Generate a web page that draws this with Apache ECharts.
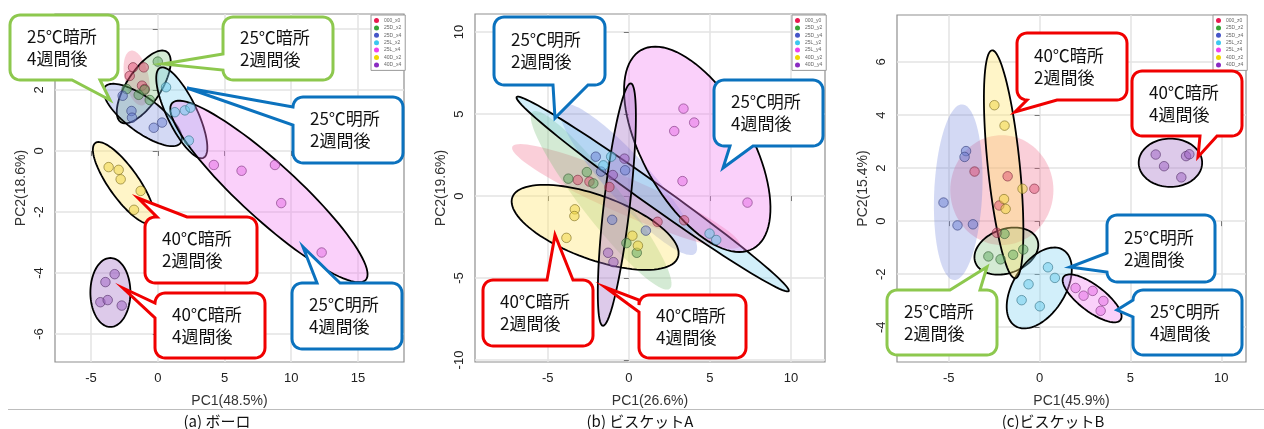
<!DOCTYPE html>
<html>
<head>
<meta charset="utf-8">
<script src="https://cdn.jsdelivr.net/npm/echarts@6/dist/echarts.min.js"></script>
<style>
  html, body { margin: 0; padding: 0; background: #fff; }
  #chart { width: 1264px; height: 429px; }
</style>
</head>
<body>
<div id="chart"></div>
<script>
// ---- PCA scores (PC1, PC2) per storage group ----
const boroGroups = ['000_x0', '25D_x2', '25D_x4', '25L_x2', '25L_x4', '40D_x2', '40D_x4'];
const biscuitAGroups = ['000_y0', '25D_y2', '25D_y4', '25L_y2', '25L_y4', '40D_y2', '40D_y4'];
const biscuitBGroups = ['000_z0', '25D_z2', '25D_z4', '25L_z2', '25L_z4', '40D_z2', '40D_z4'];

const boroScores = [
  [[-1.85, 2.74], [-1.05, 2.74], [-2.10, 2.46], [-1.18, 2.14], [-0.98, 2.03]],
  [[0.00, 2.93], [-2.33, 2.03], [-1.00, 2.00], [-1.43, 1.84], [-0.60, 1.67]],
  [[-2.63, 1.81], [-1.97, 1.31], [-1.93, 1.09], [-0.30, 0.76], [0.32, 0.93]],
  [[0.62, 2.09], [1.28, 1.27], [2.03, 1.33], [2.45, 1.42], [2.33, 0.34]],
  [[4.20, -0.46], [6.28, -0.65], [8.78, -0.46], [9.25, -1.71], [12.28, -3.33]],
  [[-3.68, -0.53], [-2.93, -0.62], [-2.78, -0.93], [-1.28, -1.31], [-1.78, -1.93]],
  [[-3.23, -4.04], [-3.92, -4.30], [-4.30, -4.96], [-3.75, -4.89], [-2.70, -5.07]]
];
const biscuitAScores = [
  [[-3.15, 0.98], [-2.43, 0.88], [-1.20, 0.55], [1.77, -1.57], [3.41, -1.48]],
  [[-2.59, 1.46], [-3.73, 1.06], [-2.19, 0.77], [-0.15, -2.87], [0.49, -3.46]],
  [[-2.04, 2.40], [-1.71, 1.49], [-0.23, 1.57], [-1.03, -1.45], [1.05, -2.11]],
  [[-1.09, 2.40], [-1.57, 1.87], [4.98, -2.29], [5.39, -2.68]],
  [[3.37, 5.33], [4.03, 4.48], [2.80, 3.96], [3.31, 0.91], [7.32, -0.40]],
  [[-3.33, -0.81], [-3.36, -1.22], [-3.85, -2.55], [0.22, -2.42], [0.56, -3.03]],
  [[-0.27, 2.28], [-0.99, 1.28], [-1.28, -3.46], [-0.95, -4.03]]
];
const biscuitBScores = [
  [[-3.58, 1.87], [-1.76, 1.69], [-0.29, 1.22], [-2.22, 0.59], [-2.35, -0.44]],
  [[-1.93, -0.48], [-0.90, -1.07], [-1.46, -1.27], [-2.82, -1.33], [-2.15, -1.44]],
  [[-4.05, 2.64], [-4.13, 2.42], [-5.29, 0.70], [-4.52, -0.16], [-3.67, -0.12]],
  [[0.46, -1.74], [0.84, -2.14], [-0.61, -2.38], [-0.99, -2.98], [0.01, -3.21]],
  [[1.98, -2.52], [2.42, -2.81], [2.92, -2.63], [3.51, -3.01], [3.36, -3.38]],
  [[-2.49, 4.37], [-1.93, 3.60], [-0.94, 1.22], [-1.96, 0.83], [-1.87, 0.46]],
  [[6.39, 2.51], [6.85, 2.07], [7.80, 1.65], [8.06, 2.45], [8.24, 2.52]]
];

// ---- Confidence ellipses: centre (cx, cy) and the two semi-axis vectors u, v in score units ----
const boroEllipses = [
  [-1.58, 2.39, 0.439, -0.897, -0.880, -0.082],
  [-1.05, 2.10, 1.717, 1.155, 1.070, -0.304],
  [-1.13, 1.18, 2.831, -0.920, -0.761, -0.448],
  [1.80, 1.25, 1.624, -1.475, -1.013, -0.213],
  [8.33, -1.33, 7.253, -2.899, -1.418, -0.678],
  [-2.55, -1.05, 2.121, -1.313, -0.919, -0.284],
  [-3.55, -4.64, 0, 1.131, 1.50, 0]
];
const biscuitAEllipses = [
  [-0.17, -0.02, 7.019, -3.024, -0.444, -1.006],
  [-1.71, -0.26, 4.231, -5.395, -0.975, -0.746],
  [-0.04, 1.02, 4.130, -4.530, -1.009, -0.897],
  [1.47, 0.12, 8.391, -5.916, -0.395, -0.546],
  [4.22, 2.85, 3.462, -6.048, -2.9, -1.62],
  [-2.08, -1.91, 5.106, -1.835, -0.676, -1.834],
  [-0.74, -0.52, -0.863, -7.390, -0.797, 0.091]
];
const biscuitBEllipses = [
  [-2.08, 1.17, 0, 2.07, 2.84, 0],
  [-1.83, -1.13, 1.708, 0.425, 0.414, -0.779],
  [-4.48, 1.09, 0.223, 3.311, 1.320, -0.042],
  [-0.02, -2.52, -1.321, -1.434, -1.211, 0.522],
  [2.89, -2.91, 1.563, -0.816, -0.435, -0.389],
  [-1.98, 2.14, 0.642, -4.298, -0.876, -0.061],
  [7.20, 2.20, 1.746, 0, 0, 0.911]
];

// ---- axis titles and tick labels ----
const pc1Names = ['PC1(48.5%)', 'PC1(26.6%)', 'PC1(45.9%)'];
const pc2Names = ['PC2(18.6%)', 'PC2(19.6%)', 'PC2(15.4%)'];
const boroXTicks = [-5, 0, 5, 10, 15];
const boroYTicks = [-6, -4, -2, 0, 2, 4];
const biscuitAXTicks = [-5, 0, 5, 10];
const biscuitAYTicks = [-10, -5, 0, 5, 10];
const biscuitBXTicks = [-5, 0, 5, 10];
const biscuitBYTicks = [-4, -2, 0, 2, 4, 6];
const captions = ['(a) ボーロ', '(b) ビスケットA', '(c)ビスケットB'];

// ---- callout texts ----
const calloutTexts = {
  d25w4: ['25℃暗所', '4週間後'],
  d25w2: ['25℃暗所', '2週間後'],
  l25w2: ['25℃明所', '2週間後'],
  l25w4: ['25℃明所', '4週間後'],
  d40w2: ['40℃暗所', '2週間後'],
  d40w4: ['40℃暗所', '4週間後']
};

// ---- styling ----
const legendColors = ['#E8194F', '#36A336', '#4655C8', '#3CC8F0', '#EE40EE', '#F2D800', '#8A2BC2'];
const pointFill = ['rgba(222,80,115,0.62)', 'rgba(95,170,95,0.62)', 'rgba(105,125,210,0.62)',
  'rgba(110,205,235,0.65)', 'rgba(228,110,228,0.65)', 'rgba(240,215,70,0.68)', 'rgba(160,100,195,0.65)'];
const pointEdge = ['rgba(120,40,60,0.75)', 'rgba(50,90,50,0.75)', 'rgba(50,60,120,0.75)',
  'rgba(50,110,130,0.75)', 'rgba(120,50,120,0.75)', 'rgba(120,105,30,0.75)', 'rgba(80,45,100,0.75)'];
const ellipseFill = ['rgba(240,95,130,0.30)', 'rgba(120,190,120,0.32)', 'rgba(110,130,220,0.30)',
  'rgba(125,210,240,0.35)', 'rgba(240,125,240,0.36)', 'rgba(255,230,110,0.38)', 'rgba(165,115,200,0.38)'];

const panels = [
  { groups: boroGroups, scores: boroScores, ellipses: boroEllipses,
    outlined: [false, true, true, true, true, true, true],
    grid: { left: 55, top: 14, width: 349, height: 348 },
    xRange: [-7.7, 18.45], yRange: [-6.92, 4.49], xSplit: 5, ySplit: 5,
    xTicks: boroXTicks, yTicks: boroYTicks, legendAt: [371, 15] },
  { groups: biscuitAGroups, scores: biscuitAScores, ellipses: biscuitAEllipses,
    outlined: [false, false, false, true, true, true, true],
    grid: { left: 475, top: 14, width: 350, height: 348 },
    xRange: [-9.49, 12.1], yRange: [-10.12, 11.1], xSplit: 5, ySplit: 5,
    xTicks: biscuitAXTicks, yTicks: biscuitAYTicks, legendAt: [792, 15] },
  { groups: biscuitBGroups, scores: biscuitBScores, ellipses: biscuitBEllipses,
    outlined: [false, true, false, true, true, true, true],
    grid: { left: 897, top: 15, width: 349, height: 347 },
    xRange: [-7.85, 11.36], yRange: [-5.31, 7.77], xSplit: 4, ySplit: 6,
    xTicks: biscuitBXTicks, yTicks: biscuitBYTicks, legendAt: [1213, 15] }
];

const chart = echarts.init(document.getElementById('chart'), null, { renderer: 'canvas' });

const series = [];
panels.forEach((p, pi) => {
  series.push({
    type: 'custom',
    name: 'ellipse-' + pi,
    coordinateSystem: 'cartesian2d',
    xAxisIndex: pi,
    yAxisIndex: pi,
    silent: true,
    z: 1,
    encode: { x: 0, y: 1 },
    data: p.ellipses.map((e, gi) => e.concat([gi])),
    renderItem: function (params, api) {
      const cx = api.value(0), cy = api.value(1);
      const ux = api.value(2), uy = api.value(3), vx = api.value(4), vy = api.value(5);
      const gi = api.value(6);
      const pts = [];
      for (let k = 0; k < 96; k++) {
        const t = (k / 96) * Math.PI * 2;
        pts.push(api.coord([cx + ux * Math.cos(t) + vx * Math.sin(t),
                            cy + uy * Math.cos(t) + vy * Math.sin(t)]));
      }
      const outlined = p.outlined[gi];
      return {
        type: 'polygon',
        shape: { points: pts },
        style: {
          fill: ellipseFill[gi],
          stroke: outlined ? '#000' : null,
          lineWidth: outlined ? 1.8 : 0
        }
      };
    }
  });
  p.groups.forEach((g, gi) => {
    series.push({
      type: 'scatter',
      name: g,
      xAxisIndex: pi,
      yAxisIndex: pi,
      z: 3,
      symbol: 'circle',
      symbolSize: 9.5,
      data: p.scores[gi],
      itemStyle: { color: pointFill[gi], borderColor: pointEdge[gi], borderWidth: 1 }
    });
  });
});

const tickFont = { fontSize: 13, color: '#222', fontFamily: 'Liberation Sans' };
const nameFont = { fontSize: 14, color: '#333', fontFamily: 'Liberation Sans' };

const xAxis = panels.map((p, pi) => ({
  gridIndex: pi, type: 'value', min: p.xRange[0], max: p.xRange[1], splitNumber: p.xSplit,
  name: pc1Names[pi], nameLocation: 'middle', nameGap: 32, nameTextStyle: nameFont,
  axisLine: { show: false },
  axisTick: { show: true, length: 5, customValues: p.xTicks, lineStyle: { color: '#777' } },
  axisLabel: Object.assign({ customValues: p.xTicks, margin: 10 }, tickFont),
  splitLine: { show: true, lineStyle: { color: '#E3E3E3', width: 1.5 } }
}));
const yAxis = panels.map((p, pi) => ({
  gridIndex: pi, type: 'value', min: p.yRange[0], max: p.yRange[1], splitNumber: p.ySplit,
  name: pc2Names[pi], nameLocation: 'middle', nameGap: 27, nameTextStyle: nameFont,
  axisLine: { show: false },
  axisTick: { show: true, length: 5, customValues: p.yTicks, lineStyle: { color: '#777' } },
  axisLabel: Object.assign({ customValues: p.yTicks, margin: 9, rotate: 90 }, tickFont),
  splitLine: { show: true, lineStyle: { color: '#E3E3E3', width: 1.5 } }
}));

const legend = panels.map((p, pi) => ({
  left: p.legendAt[0], top: p.legendAt[1], orient: 'vertical',
  icon: 'circle', itemWidth: 5, itemHeight: 5, itemGap: 2.4,
  padding: [3, 4, 3, 3], borderColor: '#9a9a9a', borderWidth: 1, backgroundColor: '#fff',
  selectedMode: false, z: 5,
  textStyle: { fontSize: 5, color: '#666', fontFamily: 'Liberation Sans' },
  data: p.groups.map((g, gi) => ({ name: g, itemStyle: { color: legendColors[gi], borderWidth: 0, opacity: 1 } }))
}));

// ---- speech-bubble callouts: rounded box with a pointer, outlined as one polygon ----
const GREEN = '#8DC84E', BLUE = '#0B72BE', RED = '#F00000';
function bubblePoints(b, side, p1, p2, tip) {
  const x = b[0], y = b[1], X2 = b[0] + b[2], Y2 = b[1] + b[3], r = 10;
  const pts = [];
  const corner = (cx, cy, a0) => {
    for (let k = 0; k <= 6; k++) {
      const a = a0 + (k / 6) * Math.PI / 2;
      pts.push([cx + r * Math.cos(a), cy + r * Math.sin(a)]);
    }
  };
  // top-left corner, then clockwise
  corner(x + r, y + r, Math.PI);
  if (side === 'top') pts.push([p1, y], tip, [p2, y]);
  corner(X2 - r, y + r, -Math.PI / 2);
  if (side === 'right') pts.push([X2, p1], tip, [X2, p2]);
  corner(X2 - r, Y2 - r, 0);
  if (side === 'bottom') pts.push([p2, Y2], tip, [p1, Y2]);
  corner(x + r, Y2 - r, Math.PI / 2);
  if (side === 'left') pts.push([x, p2], tip, [x, p1]);
  return pts;
}
const bubbles = [
  // box [x, y, w, h], pointer side, pointer base span, pointer tip, colour, text
  [[10, 15, 108, 65], 'bottom', 72, 100, [110, 100], GREEN, 'd25w4'],
  [[223, 17, 110, 63], 'left', 54, 70, [163, 64], GREEN, 'd25w2'],
  [[293, 97, 110, 66], 'left', 107, 125, [187, 88], BLUE, 'l25w2'],
  [[145, 217, 112, 66], 'top', 157, 187, [138, 198], RED, 'd40w2'],
  [[155, 293, 110, 65], 'left', 303, 318, [123, 288], RED, 'd40w4'],
  [[292, 283, 110, 66], 'top', 317, 340, [303, 247], BLUE, 'l25w4'],
  [[494, 17, 111, 68], 'bottom', 553, 588, [555, 118], BLUE, 'l25w2'],
  [[714, 80, 109, 66], 'bottom', 730, 753, [723, 168], BLUE, 'l25w4'],
  [[483, 280, 110, 66], 'top', 547, 573, [555, 235], RED, 'd40w2'],
  [[639, 295, 107, 63], 'left', 300, 312, [605, 287], RED, 'd40w4'],
  [[1017, 33, 110, 67], 'bottom', 1027, 1057, [1015, 112], RED, 'd40w2'],
  [[1132, 71, 110, 65], 'bottom', 1200, 1217, [1198, 157], RED, 'd40w4'],
  [[1107, 215, 108, 67], 'left', 253, 272, [1070, 267], BLUE, 'l25w2'],
  [[1133, 290, 109, 65], 'left', 300, 317, [1117, 310], BLUE, 'l25w4'],
  [[887, 290, 110, 65], 'top', 950, 980, [987, 267], GREEN, 'd25w2']
];

const graphics = [];
bubbles.forEach(bb => {
  const box = bb[0];
  graphics.push({
    type: 'polygon', z: 100,
    shape: { points: bubblePoints(box, bb[1], bb[2], bb[3], bb[4]) },
    style: { fill: '#fff', stroke: bb[5], lineWidth: 3, lineJoin: 'miter' }
  });
  graphics.push({
    type: 'text', z: 101,
    x: box[0] + 17, y: box[1] + box[3] / 2 - 22,
    style: {
      text: calloutTexts[bb[6]].join('\n'),
      fontSize: 17, lineHeight: 22, fontFamily: 'Noto Sans CJK JP',
      fill: '#111', align: 'left', verticalAlign: 'top'
    }
  });
});
graphics.push({
  type: 'line', z: 50,
  shape: { x1: 8, y1: 409.5, x2: 1264, y2: 409.5 },
  style: { stroke: '#BDBDBD', lineWidth: 1 }
});
[217, 640, 1053].forEach((cx, i) => {
  graphics.push({
    type: 'text', z: 50, x: cx, y: 421,
    style: { text: captions[i], fontSize: 15, fontFamily: 'Noto Sans CJK JP', fill: '#111',
             align: 'center', verticalAlign: 'middle' }
  });
});

chart.setOption({
  animation: false,
  backgroundColor: '#fff',
  textStyle: { fontFamily: 'Liberation Sans' },
  grid: panels.map(p => Object.assign({ show: true, borderColor: '#8f8f8f', borderWidth: 1.2,
                                         backgroundColor: '#fff' }, p.grid)),
  xAxis: xAxis,
  yAxis: yAxis,
  legend: legend,
  series: series,
  graphic: { elements: graphics }
});
</script>
</body>
</html>
